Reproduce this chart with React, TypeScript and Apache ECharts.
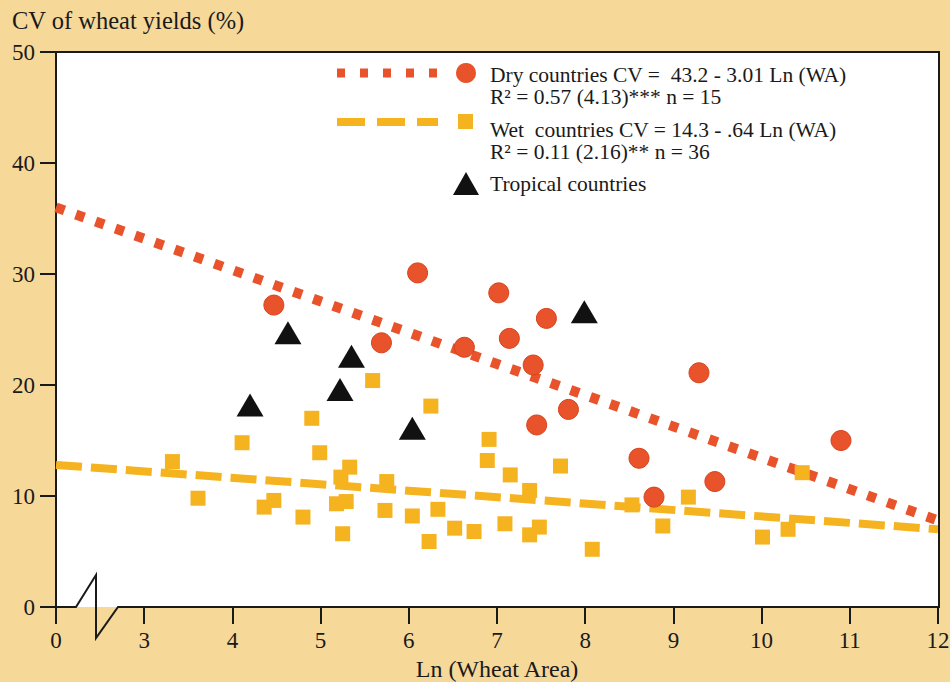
import React, { useEffect, useRef } from "react";
import * as echarts from "echarts";

const xTicks = [2, 3, 4, 5, 6, 7, 8, 9, 10, 11, 12];
const xTickLabels = ["0", "3", "4", "5", "6", "7", "8", "9", "10", "11", "12"];

const dryX = [4.47, 5.69, 6.1, 7.02, 7.56, 7.14, 6.63, 7.41, 7.81, 7.45, 8.61, 9.47, 8.78, 9.29, 10.9];
const dryY = [27.2, 23.8, 30.1, 28.3, 26.0, 24.2, 23.4, 21.8, 17.8, 16.4, 13.4, 11.3, 9.9, 21.1, 15.0];

const wetX = [5.59, 6.25, 4.9, 4.11, 4.99, 6.91, 6.89, 7.15, 3.32, 5.33, 5.23, 5.75, 3.61, 4.47, 4.36, 4.8, 5.18, 5.29, 5.25, 5.73, 6.04, 6.33, 6.23, 6.52, 6.74, 7.09, 7.37, 7.48, 7.37, 7.72, 8.53, 8.88, 9.17, 8.08, 10.46, 10.3, 10.01];
const wetY = [20.4, 18.1, 17.0, 14.8, 13.9, 15.1, 13.2, 11.9, 13.1, 12.6, 11.7, 11.3, 9.8, 9.6, 9.0, 8.1, 9.3, 9.5, 6.6, 8.7, 8.2, 8.8, 5.9, 7.1, 6.8, 7.5, 10.5, 7.2, 6.5, 12.7, 9.2, 7.3, 9.9, 5.2, 12.1, 7.0, 6.3];

const tropX = [4.2, 4.63, 5.35, 5.22, 6.04, 7.99];
const tropY = [18.2, 24.7, 22.6, 19.6, 16.1, 26.6];

const dryLineX = [2, 12];
const dryLineY = [36.0, 7.8];
const wetLineX = [2, 12];
const wetLineY = [12.8, 7.0];

const legendTexts = [
  "Dry countries CV =  43.2 - 3.01 Ln (WA)",
  "R\u00B2 = 0.57 (4.13)*** n = 15",
  "Wet  countries CV = 14.3 - .64 Ln (WA)",
  "R\u00B2 = 0.11 (2.16)** n = 36",
  "Tropical countries",
];

const RED = "#e8532b";
const YEL = "#f6b320";
const BG = "#f6d899";
const FONT = "'Liberation Serif', 'DejaVu Serif', serif";
const INK = "#1a1a1a";

const zip = (xs: number[], ys: number[]) => xs.map((x, i) => [x, ys[i]]);

export default function App() {
  const ref = useRef<HTMLDivElement>(null);
  useEffect(() => {
    if (!ref.current) return;
    const chart = echarts.init(ref.current, undefined, { renderer: "svg" });
    const G = { left: 56, right: 12, top: 52, bottom: 75 };
    const legendText = (text: string, y: number) => ({
      type: "text",
      x: 490,
      y,
      style: { text, fontSize: 21.5, fill: INK, fontFamily: FONT, verticalAlign: "middle" },
      z: 10,
    });
    chart.setOption({
      animation: false,
      backgroundColor: BG,
      textStyle: { fontFamily: FONT },
      grid: {
        ...G,
        containLabel: false,
        outerBoundsMode: "none",
        show: true,
        backgroundColor: "#ffffff",
        borderWidth: 0,
      },
      xAxis: {
        type: "value",
        min: 2,
        max: 12,
        interval: 1,
        axisLine: { show: false },
        axisTick: { show: true, length: 17, lineStyle: { color: INK, width: 2 } },
        axisLabel: {
          margin: 22,
          fontSize: 23,
          color: INK,
          fontFamily: FONT,
          formatter: (v: number) => xTickLabels[xTicks.indexOf(v)] ?? String(v),
        },
        splitLine: { show: false },
        name: "Ln (Wheat Area)",
        nameLocation: "middle",
        nameGap: 49,
        nameTextStyle: { fontSize: 24, color: INK, fontFamily: FONT },
      },
      yAxis: {
        type: "value",
        min: 0,
        max: 50,
        interval: 10,
        axisLine: { show: true, lineStyle: { color: INK, width: 2 } },
        axisTick: { show: true, length: 16, lineStyle: { color: INK, width: 2 } },
        axisLabel: { margin: 21, fontSize: 23, color: INK, fontFamily: FONT },
        splitLine: { show: false },
      },
      series: [
        {
          type: "line",
          data: zip(wetLineX, wetLineY),
          symbol: "none",
          lineStyle: { color: YEL, width: 8, type: [26, 9], cap: "butt" },
          z: 2,
        },
        {
          type: "line",
          data: zip(dryLineX, dryLineY),
          symbol: "none",
          lineStyle: { color: RED, width: 10, type: [9, 12], cap: "butt" },
          z: 2,
        },
        {
          type: "scatter",
          data: zip(wetX, wetY),
          symbol: "rect",
          symbolSize: 15,
          itemStyle: { color: YEL, opacity: 1 },
          z: 3,
        },
        {
          type: "scatter",
          data: zip(dryX, dryY),
          symbol: "circle",
          symbolSize: 20,
          itemStyle: { color: RED, borderColor: "#d8421c", borderWidth: 1, opacity: 1 },
          z: 4,
        },
        {
          type: "scatter",
          data: zip(tropX, tropY),
          symbol: "triangle",
          symbolSize: [27, 23],
          itemStyle: { color: "#111111", opacity: 1 },
          z: 5,
        },
      ],
      graphic: [
        {
          type: "text",
          left: 12,
          top: 8,
          style: { text: "CV of wheat yields (%)", fontSize: 24.5, fill: INK, fontFamily: FONT },
        },
        { type: "line", shape: { x1: 56, y1: 52, x2: 940, y2: 52 }, style: { stroke: INK, lineWidth: 2 }, z: 10 },
        { type: "line", shape: { x1: 939, y1: 52, x2: 939, y2: 608 }, style: { stroke: INK, lineWidth: 2 }, z: 10 },
        {
          type: "polyline",
          shape: { points: [[56, 607], [76, 607], [96, 575], [96, 638], [118, 607], [940, 607]] },
          style: { stroke: INK, lineWidth: 2, fill: null },
          z: 10,
        },
        { type: "line", shape: { x1: 337, y1: 73, x2: 442, y2: 73 }, style: { stroke: RED, lineWidth: 9, lineDash: [8, 15] }, z: 10 },
        { type: "circle", shape: { cx: 466, cy: 73, r: 10 }, style: { fill: RED }, z: 10 },
        { type: "line", shape: { x1: 337, y1: 122, x2: 438, y2: 122 }, style: { stroke: YEL, lineWidth: 8, lineDash: [28, 12] }, z: 10 },
        { type: "rect", shape: { x: 458, y: 114, width: 15, height: 15 }, style: { fill: YEL }, z: 10 },
        { type: "polygon", shape: { points: [[466, 172], [453, 195], [479, 195]] }, style: { fill: "#111111" }, z: 10 },
        legendText(legendTexts[0], 75),
        legendText(legendTexts[1], 97),
        legendText(legendTexts[2], 130),
        legendText(legendTexts[3], 152),
        legendText(legendTexts[4], 184),
      ],
    });
    return () => chart.dispose();
  }, []);
  return <div ref={ref} style={{ width: 950, height: 682, position: "absolute", left: 0, top: 0 }} />;
}
